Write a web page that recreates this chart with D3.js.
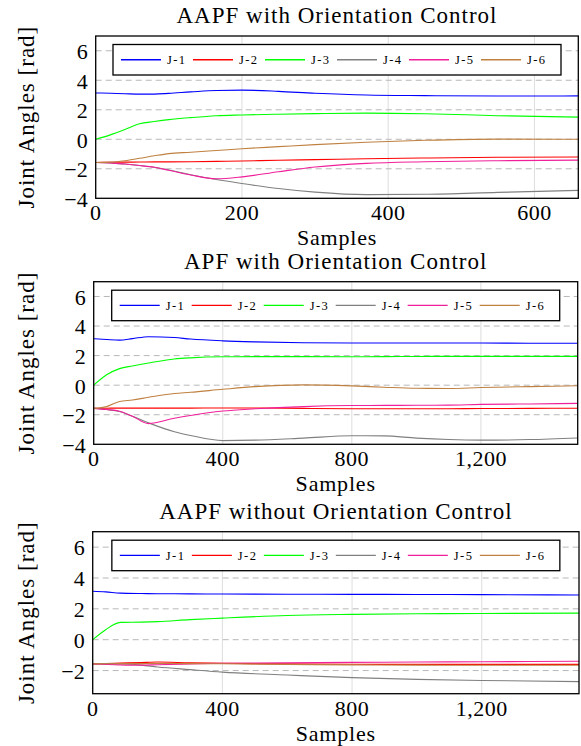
<!DOCTYPE html>
<html>
<head>
<meta charset="utf-8">
<script src="https://cdn.jsdelivr.net/npm/d3@7"></script>
<style>
  body { margin: 0; background: #fff; }
  svg text { font-family: "Liberation Serif", "DejaVu Serif", serif; fill: #000; }
</style>
</head>
<body>
<div id="chart"></div>
<script>
var joints = ["J-1", "J-2", "J-3", "J-4", "J-5", "J-6"];
var colors = ["#0000ff", "#ff0000", "#00ff00", "#808080", "#f0209a", "#bf8040"];
var titles = ["AAPF with Orientation Control", "APF with Orientation Control", "AAPF without Orientation Control"];

// panel 1 : AAPF with orientation control
var p1_samples = [0, 20, 40, 60, 80, 100, 130, 165, 200, 250, 300, 370, 450, 550, 660];
var p1_j1 = [3.14, 3.12, 3.09, 3.06, 3.06, 3.11, 3.21, 3.31, 3.33, 3.25, 3.12, 3.0, 2.96, 2.93, 2.94];
var p1_j2 = [-1.57, -1.56, -1.55, -1.54, -1.53, -1.53, -1.52, -1.5, -1.47, -1.42, -1.38, -1.32, -1.27, -1.22, -1.2];
var p1_j3 = [0, 0.3, 0.66, 1.05, 1.2, 1.33, 1.47, 1.6, 1.65, 1.7, 1.74, 1.77, 1.73, 1.6, 1.5];
var p1_j4 = [-1.57, -1.6, -1.68, -1.78, -1.9, -2.08, -2.4, -2.73, -3.0, -3.34, -3.58, -3.75, -3.73, -3.6, -3.46];
var p1_j5 = [-1.57, -1.6, -1.68, -1.78, -1.9, -2.1, -2.42, -2.68, -2.55, -2.2, -1.88, -1.63, -1.52, -1.45, -1.41];
var p1_j6 = [-1.57, -1.55, -1.45, -1.29, -1.12, -0.97, -0.88, -0.76, -0.64, -0.5, -0.36, -0.2, -0.07, 0.01, 0];

// panel 2 : APF with orientation control
var p2_samples = [0, 40, 80, 120, 170, 250, 300, 400, 500, 650, 800, 900, 1000, 1100, 1200, 1350, 1500];
var p2_j1 = [3.14, 3.09, 3.05, 3.15, 3.28, 3.22, 3.12, 3.0, 2.93, 2.87, 2.85, 2.85, 2.85, 2.85, 2.85, 2.84, 2.84];
var p2_j2 = [-1.57, -1.56, -1.55, -1.55, -1.55, -1.55, -1.55, -1.54, -1.54, -1.57, -1.6, -1.6, -1.6, -1.59, -1.58, -1.57, -1.56];
var p2_j3 = [0, 0.7, 1.12, 1.3, 1.5, 1.77, 1.85, 1.92, 1.93, 1.93, 1.92, 1.93, 1.94, 1.95, 1.95, 1.95, 1.95];
var p2_j4 = [-1.57, -1.65, -1.78, -2.1, -2.55, -3.15, -3.4, -3.75, -3.72, -3.58, -3.42, -3.43, -3.58, -3.68, -3.72, -3.68, -3.57];
var p2_j5 = [-1.57, -1.65, -1.76, -2.1, -2.6, -2.24, -2.05, -1.75, -1.6, -1.45, -1.38, -1.37, -1.36, -1.35, -1.3, -1.27, -1.23];
var p2_j6 = [-1.57, -1.45, -1.1, -1.0, -0.82, -0.56, -0.48, -0.28, -0.1, 0.02, -0.05, -0.14, -0.21, -0.22, -0.16, -0.1, -0.04];

// panel 3 : AAPF without orientation control
var p3_samples = [0, 40, 85, 150, 200, 300, 400, 600, 800, 1000, 1200, 1500];
var p3_j1 = [3.14, 3.1, 3.02, 2.99, 2.98, 2.97, 2.96, 2.95, 2.94, 2.93, 2.92, 2.9];
var p3_j2 = [-1.57, -1.55, -1.52, -1.48, -1.45, -1.5, -1.53, -1.57, -1.59, -1.6, -1.6, -1.6];
var p3_j3 = [0, 0.65, 1.12, 1.14, 1.17, 1.3, 1.4, 1.57, 1.64, 1.68, 1.7, 1.72];
var p3_j4 = [-1.57, -1.55, -1.56, -1.65, -1.77, -1.94, -2.1, -2.29, -2.46, -2.57, -2.64, -2.72];
var p3_j5 = [-1.57, -1.6, -1.63, -1.65, -1.62, -1.57, -1.53, -1.5, -1.47, -1.45, -1.43, -1.4];
var p3_j6 = [-1.57, -1.56, -1.55, -1.55, -1.54, -1.55, -1.56, -1.6, -1.63, -1.65, -1.66, -1.66];

var x_ticks = [[0, 200, 400, 600], [0, 400, 800, 1200], [0, 400, 800, 1200]];
var y_ticks = [-4, -2, 0, 2, 4, 6];
var x_max = [660, 1500, 1500];
var y_min = [-4, -4, -3.5];
var y_max = 7;

var panel_data = [
	{samples: p1_samples, series: [p1_j1, p1_j2, p1_j3, p1_j4, p1_j5, p1_j6]},
	{samples: p2_samples, series: [p2_j1, p2_j2, p2_j3, p2_j4, p2_j5, p2_j6]},
	{samples: p3_samples, series: [p3_j1, p3_j2, p3_j3, p3_j4, p3_j5, p3_j6]}
];

// plot boxes in pixels
var boxes = [
	{left: 95.7, top: 36, right: 578.3, bottom: 198.3},
	{left: 93.7, top: 281.7, right: 577.7, bottom: 444.3},
	{left: 92.7, top: 531.7, right: 579, bottom: 693.7}
];

var font = '"Liberation Serif", "DejaVu Serif", serif';

var svg = d3.select("#chart").append("svg")
	.attr("width", 581)
	.attr("height", 746);

var fmt = d3.format(",");

panel_data.forEach(function(pd, p){
	var b = boxes[p];
	var x = d3.scaleLinear().domain([0, x_max[p]]).range([b.left, b.right]);
	var y = d3.scaleLinear().domain([y_min[p], y_max]).range([b.bottom, b.top]);
	var g = svg.append("g").attr("font-family", font);

	g.append("clipPath").attr("id", "clip" + p)
		.append("rect")
			.attr("x", b.left).attr("y", b.top)
			.attr("width", b.right - b.left).attr("height", b.bottom - b.top);

	// vertical grid
	g.selectAll(".vgrid").data(x_ticks[p]).enter().append("line")
		.attr("x1", function(d){ return x(d); })
		.attr("x2", function(d){ return x(d); })
		.attr("y1", b.top).attr("y2", b.bottom)
		.style("stroke", "#d4d4d4").style("stroke-width", 0.8);

	// dashed horizontal grid
	var yt = y_ticks.filter(function(d){ return d > y_min[p]; });
	g.selectAll(".hgrid").data(yt).enter().append("line")
		.attr("x1", b.left).attr("x2", b.right)
		.attr("y1", function(d){ return y(d); })
		.attr("y2", function(d){ return y(d); })
		.style("stroke", "#b8b8b8").style("stroke-width", 1)
		.style("stroke-dasharray", "6,4");

	// curves
	var line = d3.line()
		.x(function(d){ return x(d[0]); })
		.y(function(d){ return y(d[1]); })
		.curve(d3.curveMonotoneX);

	g.append("g").attr("clip-path", "url(#clip" + p + ")")
		.selectAll("path").data(pd.series).enter().append("path")
			.attr("d", function(s){ return line(s.map(function(v, i){ return [pd.samples[i], v]; })); })
			.style("fill", "none")
			.style("stroke", function(s, i){ return colors[i]; })
			.style("stroke-width", 1.1);

	// box
	g.append("rect")
		.attr("x", b.left).attr("y", b.top)
		.attr("width", b.right - b.left).attr("height", b.bottom - b.top)
		.style("fill", "none").style("stroke", "#000").style("stroke-width", 1.3);

	// tick labels
	g.selectAll(".xlab").data(x_ticks[p]).enter().append("text")
		.attr("x", function(d){ return x(d); })
		.attr("y", b.bottom + 22)
		.attr("text-anchor", "middle")
		.style("font-size", "22px")
		.style("letter-spacing", "0.5px")
		.text(fmt);

	g.selectAll(".ylab").data(y_ticks.filter(function(d){ return d >= y_min[p]; })).enter().append("text")
		.attr("x", b.left - 8)
		.attr("y", function(d){ return y(d); })
		.attr("dy", "0.38em")
		.attr("text-anchor", "end")
		.style("font-size", "22px")
		.text(fmt);

	// axis titles
	g.append("text")
		.attr("x", (b.left + b.right) / 2)
		.attr("y", b.bottom + 47)
		.attr("text-anchor", "middle")
		.style("font-size", "22px")
		.style("letter-spacing", "0.8px")
		.text("Samples");

	g.append("text")
		.attr("transform", "translate(34," + ((b.top + b.bottom) / 2) + ") rotate(-90)")
		.attr("text-anchor", "middle")
		.style("font-size", "23px")
		.style("letter-spacing", "1px")
		.text("Joint Angles [rad]");

	g.append("text")
		.attr("x", (b.left + b.right) / 2)
		.attr("y", b.top - 13)
		.attr("text-anchor", "middle")
		.style("font-size", "23px")
		.style("letter-spacing", "1px")
		.text(titles[p]);

	// legend
	var lw = 448, lh = 30.5;
	var lx = (b.left + b.right) / 2 - lw / 2, ly = b.top + 8.5;
	var leg = g.append("g");
	leg.append("rect")
		.attr("x", lx).attr("y", ly).attr("width", lw).attr("height", lh)
		.style("fill", "#fff").style("stroke", "#000").style("stroke-width", 1.3);

	var item = leg.selectAll(".item").data(joints).enter().append("g")
		.attr("transform", function(d, i){ return "translate(" + (lx + 8 + i * 72) + "," + (ly + lh / 2) + ")"; });
	item.append("line")
		.attr("x1", 0).attr("x2", 40)
		.style("stroke", function(d, i){ return colors[i]; })
		.style("stroke-width", 1.3);
	item.append("text")
		.attr("x", 46).attr("dy", "0.35em")
		.style("font-size", "12.5px")
		.style("letter-spacing", "1.4px")
		.text(function(d){ return d; });
});
</script>
</body>
</html>
